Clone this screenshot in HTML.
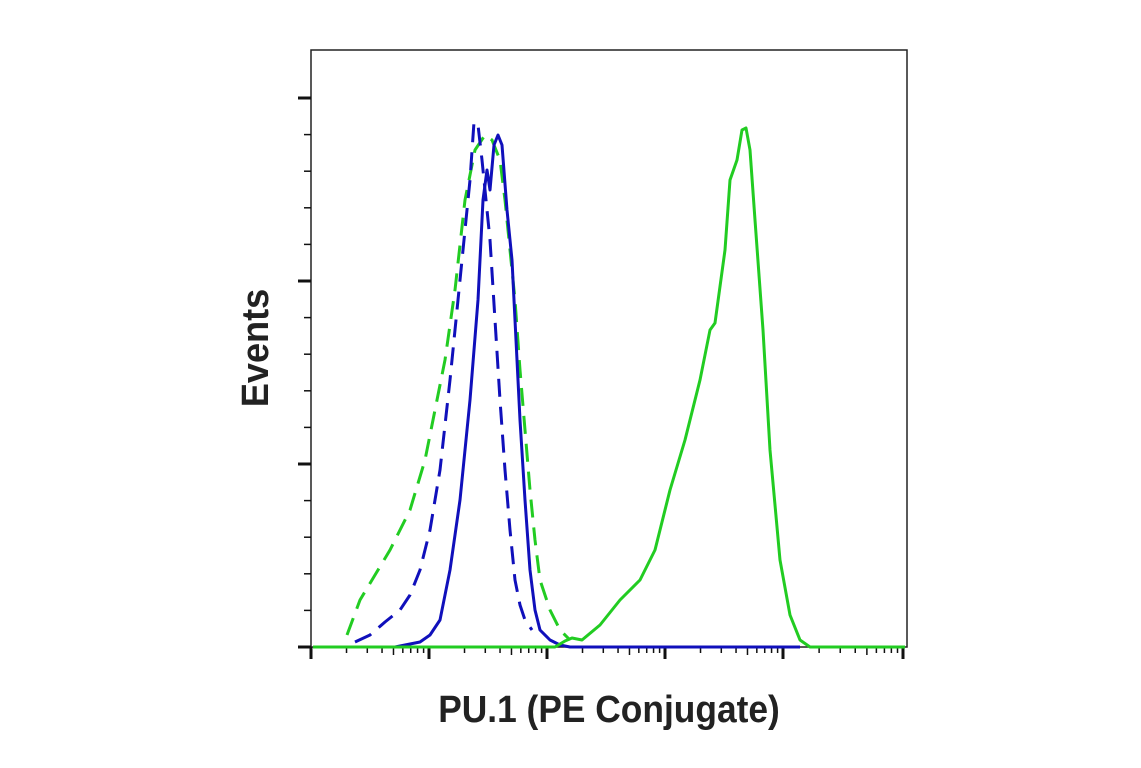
<!DOCTYPE html>
<html><head><style>
body{margin:0;background:#fff;width:1141px;height:768px;overflow:hidden}
svg{display:block}
text{font-family:"Liberation Sans",sans-serif;font-weight:bold;fill:#222}
</style></head><body>
<svg width="1141" height="768" viewBox="0 0 1141 768">
<rect x="311" y="50" width="596" height="597" fill="none" stroke="#222" stroke-width="1.5"/>
<g stroke="#111" stroke-width="1.5" id="yt"></g>
<g stroke="#111" id="xt"></g>
<g fill="none" stroke-width="3" stroke-linejoin="round">
<polyline stroke="#22cc22" stroke-dasharray="18,10" points="347,635 360,600 375,575 390,550 410,510 425,460 435,410 445,360 455,290 465,200 475,150 485,135 492,140 500,160 505,200 510,250 515,300 520,370 525,430 530,490 535,540 540,580 550,610 560,630 570,640"/>
<polyline stroke="#1010bb" stroke-dasharray="18,10" points="355,642 370,635 385,622 400,610 410,595 420,570 430,530 440,470 450,380 458,300 465,230 470,180 474,122 478,125 482,160 486,200 490,240 495,320 500,400 505,470 510,530 515,580 520,605 525,620 532,630"/>
<polyline stroke="#1010bb" points="395,647 420,642 430,635 440,620 450,570 460,500 470,400 478,300 483,200 487,170 490,190 494,145 498,135 502,145 507,210 512,260 516,340 520,420 525,500 530,570 535,610 540,630 550,640 560,645 570,647 800,647"/>
<polyline stroke="#22cc22" points="313,647 555,647 565,641 572,638 582,640 600,625 620,600 640,580 655,550 670,490 685,440 700,380 710,330 715,323 725,250 730,180 737,160 742,130 746,128 750,150 755,220 763,330 770,450 780,560 790,615 800,640 810,647 905,647"/>
</g>
<text x="609" y="722" text-anchor="middle" font-size="38" transform="translate(609 0) scale(0.93 1) translate(-609 0)">PU.1 (PE Conjugate)</text>
<text x="0" y="0" text-anchor="middle" font-size="38" transform="translate(268 348) rotate(-90) scale(0.95 1)">Events</text>
</svg>
<script>
var ns="http://www.w3.org/2000/svg";
function ln(g,x1,y1,x2,y2,w){var l=document.createElementNS(ns,"line");l.setAttribute("x1",x1);l.setAttribute("y1",y1);l.setAttribute("x2",x2);l.setAttribute("y2",y2);l.setAttribute("stroke-width",w);g.appendChild(l);}
var yt=document.getElementById("yt"),xt=document.getElementById("xt");
for(var i=0;i<=15;i++){var y=647-i*36.6;if(y<55)break;var maj=i%5==0;ln(yt,maj?298:304,y,311,y,maj?3:1.5);}
var m=[311,429,547,665,783,903];
for(var d=0;d<5;d++){var x0=m[d],w=m[d+1]-m[d];ln(xt,x0,647,x0,659,3);for(var k=2;k<10;k++){var x=x0+Math.log10(k)*w;ln(xt,x,647,x,k==5?655:653,1.5);}}
ln(xt,903,647,903,659,3);
</script>
</body></html>
